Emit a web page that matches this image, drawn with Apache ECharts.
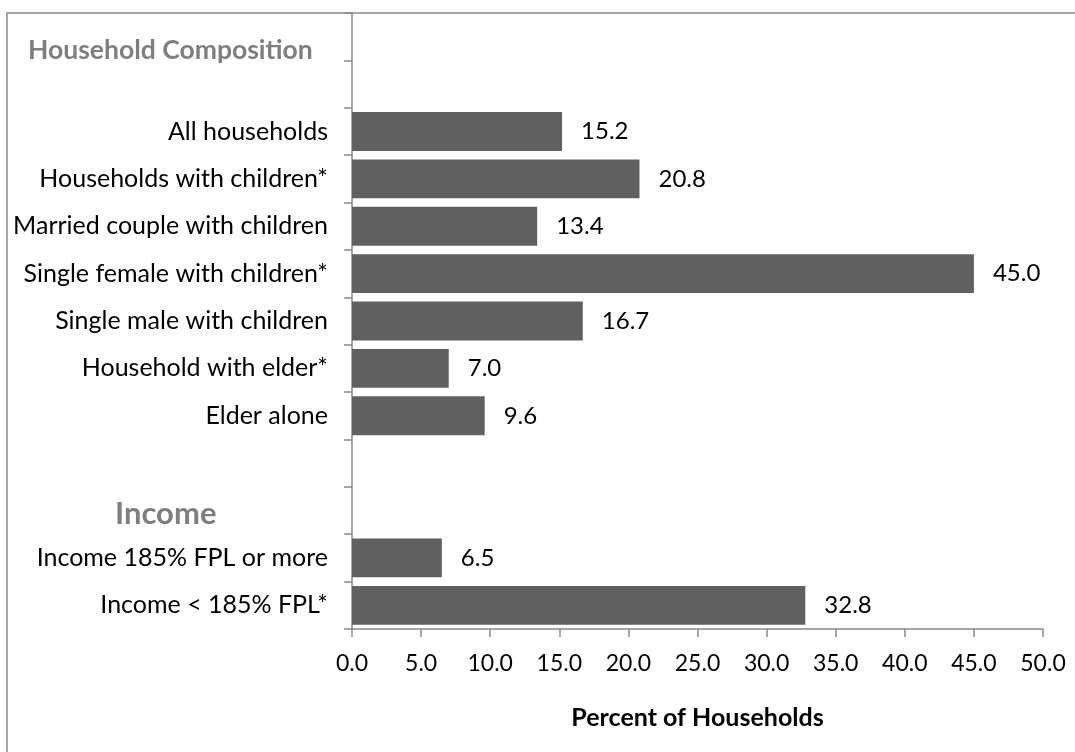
<!DOCTYPE html>
<html>
<head>
<meta charset="utf-8">
<script src="https://cdn.jsdelivr.net/npm/echarts@6/dist/echarts.min.js"></script>
<style>
  html, body { margin: 0; padding: 0; background: #fff; }
  #chart { width: 1075px; height: 752px; }
</style>
</head>
<body>
<div id="chart"></div>
<script>
// Row labels, top to bottom; empty strings keep room for the section headings
const categories = [
  '', '',
  'All households',
  'Households with children*',
  'Married couple with children',
  'Single female with children*',
  'Single male with children',
  'Household with elder*',
  'Elder alone',
  '', '',
  'Income 185% FPL or more',
  'Income < 185% FPL*'
];
// Percent of households for each row (null where there is no bar)
const percents = [null, null, 15.2, 20.8, 13.4, 45.0, 16.7, 7.0, 9.6, null, null, 6.5, 32.8];
const sectionHeadings = ['Household Composition', 'Income'];
const axisTitle = 'Percent of Households';

const FONT = 'Lato, "Open Sans", sans-serif';
const AXIS_GRAY = '#898989';

const chart = echarts.init(document.getElementById('chart'), null, { renderer: 'canvas' });

chart.setOption({
  animation: false,
  backgroundColor: '#ffffff',
  textStyle: { fontFamily: FONT },
  grid: { left: 352, right: 32, top: 13, bottom: 123, containLabel: false },
  xAxis: {
    type: 'value',
    min: 0,
    max: 50,
    interval: 5,
    name: axisTitle,
    nameLocation: 'middle',
    nameGap: 76,
    nameTextStyle: { fontFamily: FONT, fontSize: 25, fontWeight: 'bold', color: '#000' },
    axisLine: { show: true, lineStyle: { color: AXIS_GRAY, width: 1.5 } },
    axisTick: { show: true, length: 8, lineStyle: { color: AXIS_GRAY, width: 1.5 } },
    axisLabel: {
      margin: 23,
      fontFamily: FONT,
      fontSize: 23,
      color: '#000',
      formatter: v => v.toFixed(1)
    },
    splitLine: { show: false }
  },
  yAxis: {
    type: 'category',
    data: categories,
    inverse: true,
    axisLine: { show: true, lineStyle: { color: AXIS_GRAY, width: 1.5 } },
    axisTick: { show: true, length: 8, inside: false, lineStyle: { color: AXIS_GRAY, width: 1.5 } },
    axisLabel: { margin: 24, fontFamily: FONT, fontSize: 25, color: '#000', interval: 0 }
  },
  series: [{
    type: 'bar',
    data: percents,
    barCategoryGap: '18%',
    itemStyle: { color: '#606060' },
    label: {
      show: true,
      position: 'right',
      distance: 19,
      fontFamily: FONT,
      fontSize: 24,
      color: '#000',
      formatter: p => (p.value == null ? '' : Number(p.value).toFixed(1))
    }
  }],
  graphic: [
    {
      type: 'rect',
      silent: true,
      shape: { x: 7, y: 13, width: 1100, height: 800 },
      style: { fill: 'none', stroke: AXIS_GRAY, lineWidth: 1.5 },
      z: -1
    },
    {
      type: 'text',
      left: 28,
      top: 37,
      style: {
        text: sectionHeadings[0],
        font: 'bold 26.5px ' + FONT,
        fill: '#7f7f7f'
      }
    },
    {
      type: 'text',
      left: 115,
      top: 498,
      style: {
        text: sectionHeadings[1],
        font: 'bold 31px ' + FONT,
        fill: '#7f7f7f'
      }
    }
  ]
});
</script>
</body>
</html>
